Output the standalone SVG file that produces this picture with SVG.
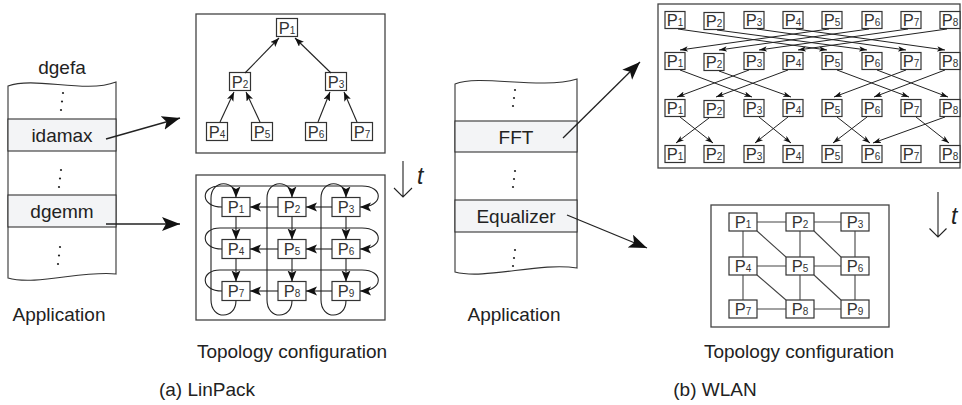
<svg xmlns="http://www.w3.org/2000/svg" width="962" height="405" viewBox="0 0 962 405">
<style>
.bg{fill:#fff}
.col{fill:#fff;stroke:#333;stroke-width:1.1}
.fn{fill:#f3f4f6;stroke:#333;stroke-width:1.1}
.frame{fill:#fff;stroke:#444;stroke-width:1.3}
.nd{fill:#fff;stroke:#333;stroke-width:1.2}
.lbl{font-family:"Liberation Sans",Arial,sans-serif;font-size:19px;fill:#222;text-anchor:middle}
.pn{font-family:"Liberation Sans",Arial,sans-serif;font-size:16.5px;fill:#333;text-anchor:middle}
.sub{font-size:10px}
.tt{font-family:"Liberation Sans",Arial,sans-serif;font-size:23px;font-style:italic;fill:#222}
.ln{stroke:#222;stroke-width:1.1;fill:none}
.gl{stroke:#444;stroke-width:1.1;fill:none}
.dot{fill:#222}
.big{stroke:#222;stroke-width:1.3;fill:none;marker-end:url(#mBig)}
.med{stroke:#222;stroke-width:1.1;fill:none;marker-end:url(#mMed)}
.tre{stroke:#222;stroke-width:1.1;fill:none;marker-end:url(#mTree)}
.sm{stroke:#222;stroke-width:1;fill:none;marker-end:url(#mSm)}
</style>
<defs>
<marker id="mBig" markerUnits="userSpaceOnUse" markerWidth="20" markerHeight="16" refX="18" refY="7" orient="auto"><path d="M0,0 L18,7 L0,14 L4,7 z" fill="#111"/></marker>
<marker id="mMed" markerUnits="userSpaceOnUse" markerWidth="13" markerHeight="10" refX="11" refY="4.5" orient="auto"><path d="M0,0 L11,4.5 L0,9 L2.5,4.5 z" fill="#111"/></marker>
<marker id="mTree" markerUnits="userSpaceOnUse" markerWidth="11" markerHeight="8" refX="9" refY="3.5" orient="auto"><path d="M0,0 L9,3.5 L0,7 L2,3.5 z" fill="#111"/></marker>
<marker id="mSm" markerUnits="userSpaceOnUse" markerWidth="10" markerHeight="7" refX="8" refY="2.75" orient="auto"><path d="M0,0 L8,2.75 L0,5.5 L2,2.75 z" fill="#111"/></marker>
</defs>
<rect class="bg" x="0" y="0" width="962" height="405"/>

<!-- (a) Application column -->
<g id="appA">
<text class="lbl" x="62" y="74">dgefa</text>
<path class="col" d="M8,86 C35,76 85,94 116,82 L116,274 C85,270 35,286 8,278 Z"/>
<g id="idamax"><rect class="fn" x="8" y="119" width="108" height="32"/><text class="lbl" x="62" y="142">idamax</text></g>
<g id="dgemm"><rect class="fn" x="8" y="195" width="108" height="32"/><text class="lbl" x="62" y="218">dgemm</text></g>
<circle class="dot" cx="63" cy="93" r="1.1"/><circle class="dot" cx="62" cy="101.5" r="1.1"/><circle class="dot" cx="61" cy="110" r="1.1"/>
<circle class="dot" cx="61" cy="170" r="1.1"/><circle class="dot" cx="60" cy="178.5" r="1.1"/><circle class="dot" cx="59" cy="187" r="1.1"/>
<circle class="dot" cx="60" cy="247" r="1.1"/><circle class="dot" cx="59" cy="255.5" r="1.1"/><circle class="dot" cx="58" cy="264" r="1.1"/>
<text class="lbl" x="59" y="321">Application</text>
</g>

<!-- (a) Tree topology -->
<g id="treeA">
<rect class="frame" x="196" y="14" width="189" height="139"/>
<g id="tP1"><rect class="nd" x="276.5" y="18.5" width="21" height="18"/><text class="pn" x="287" y="33.5">P<tspan class="sub">1</tspan></text></g>
<g id="tP2"><rect class="nd" x="229.5" y="72.5" width="21" height="18"/><text class="pn" x="240" y="87.5">P<tspan class="sub">2</tspan></text></g>
<g id="tP3"><rect class="nd" x="325.5" y="72.5" width="21" height="18"/><text class="pn" x="336" y="87.5">P<tspan class="sub">3</tspan></text></g>
<g id="tP4"><rect class="nd" x="206.5" y="122.5" width="21" height="18"/><text class="pn" x="217" y="137.5">P<tspan class="sub">4</tspan></text></g>
<g id="tP5"><rect class="nd" x="251.5" y="122.5" width="21" height="18"/><text class="pn" x="262" y="137.5">P<tspan class="sub">5</tspan></text></g>
<g id="tP6"><rect class="nd" x="305.5" y="122.5" width="21" height="18"/><text class="pn" x="316" y="137.5">P<tspan class="sub">6</tspan></text></g>
<g id="tP7"><rect class="nd" x="351.5" y="122.5" width="21" height="18"/><text class="pn" x="362" y="137.5">P<tspan class="sub">7</tspan></text></g>
</g>

<!-- (a) Mesh topology -->
<g id="meshA">
<rect class="frame" x="196" y="175" width="189" height="145"/>
<g id="mP1"><rect class="nd" x="222" y="197.5" width="28" height="19"/><text class="pn" x="236" y="213">P<tspan class="sub">1</tspan></text></g>
<g id="mP2"><rect class="nd" x="278" y="197.5" width="28" height="19"/><text class="pn" x="292" y="213">P<tspan class="sub">2</tspan></text></g>
<g id="mP3"><rect class="nd" x="332" y="197.5" width="28" height="19"/><text class="pn" x="346" y="213">P<tspan class="sub">3</tspan></text></g>
<g id="mP4"><rect class="nd" x="222" y="239.5" width="28" height="19"/><text class="pn" x="236" y="255">P<tspan class="sub">4</tspan></text></g>
<g id="mP5"><rect class="nd" x="278" y="239.5" width="28" height="19"/><text class="pn" x="292" y="255">P<tspan class="sub">5</tspan></text></g>
<g id="mP6"><rect class="nd" x="332" y="239.5" width="28" height="19"/><text class="pn" x="346" y="255">P<tspan class="sub">6</tspan></text></g>
<g id="mP7"><rect class="nd" x="222" y="281.5" width="28" height="19"/><text class="pn" x="236" y="297">P<tspan class="sub">7</tspan></text></g>
<g id="mP8"><rect class="nd" x="278" y="281.5" width="28" height="19"/><text class="pn" x="292" y="297">P<tspan class="sub">8</tspan></text></g>
<g id="mP9"><rect class="nd" x="332" y="281.5" width="28" height="19"/><text class="pn" x="346" y="297">P<tspan class="sub">9</tspan></text></g>
</g>

<text class="lbl" x="292" y="358">Topology configuration</text>
<text class="lbl" x="207" y="396">(a) LinPack</text>

<!-- (b) Application column -->
<g id="appB">
<path class="col" d="M455,84 C480,74 540,90 577,79 L577,268 C540,262 485,280 455,272 Z"/>
<g id="fft"><rect class="fn" x="455" y="121" width="122" height="31"/><text class="lbl" x="516" y="143.5">FFT</text></g>
<g id="equalizer"><rect class="fn" x="455" y="200" width="122" height="32"/><text class="lbl" x="516" y="223">Equalizer</text></g>
<circle class="dot" cx="515" cy="90" r="1.1"/><circle class="dot" cx="514" cy="98" r="1.1"/><circle class="dot" cx="513" cy="106" r="1.1"/>
<circle class="dot" cx="515" cy="171" r="1.1"/><circle class="dot" cx="514" cy="179" r="1.1"/><circle class="dot" cx="513" cy="187" r="1.1"/>
<circle class="dot" cx="515" cy="250" r="1.1"/><circle class="dot" cx="514" cy="258" r="1.1"/><circle class="dot" cx="513" cy="266" r="1.1"/>
<text class="lbl" x="514" y="321">Application</text>
</g>

<!-- (b) Butterfly topology -->
<g id="fftTopo">
<rect class="frame" x="658" y="4" width="302" height="164"/>
<g id="b1">
<rect class="nd" x="665" y="11.5" width="20" height="17"/><text class="pn" x="675" y="26">P<tspan class="sub">1</tspan></text>
<rect class="nd" x="704" y="12.5" width="20" height="17"/><text class="pn" x="714" y="27">P<tspan class="sub">2</tspan></text>
<rect class="nd" x="744" y="11.5" width="20" height="17"/><text class="pn" x="754" y="26">P<tspan class="sub">3</tspan></text>
<rect class="nd" x="783" y="11.5" width="20" height="17"/><text class="pn" x="793" y="26">P<tspan class="sub">4</tspan></text>
<rect class="nd" x="822" y="11.5" width="20" height="17"/><text class="pn" x="832" y="26">P<tspan class="sub">5</tspan></text>
<rect class="nd" x="862" y="11.5" width="20" height="17"/><text class="pn" x="872" y="26">P<tspan class="sub">6</tspan></text>
<rect class="nd" x="901" y="11.5" width="20" height="17"/><text class="pn" x="911" y="26">P<tspan class="sub">7</tspan></text>
<rect class="nd" x="940" y="11.5" width="20" height="17"/><text class="pn" x="950" y="26">P<tspan class="sub">8</tspan></text>
</g>
<g id="b2">
<rect class="nd" x="665" y="52.5" width="20" height="17"/><text class="pn" x="675" y="67">P<tspan class="sub">1</tspan></text>
<rect class="nd" x="704" y="53.5" width="20" height="17"/><text class="pn" x="714" y="68">P<tspan class="sub">2</tspan></text>
<rect class="nd" x="744" y="52.5" width="20" height="17"/><text class="pn" x="754" y="67">P<tspan class="sub">3</tspan></text>
<rect class="nd" x="783" y="52.5" width="20" height="17"/><text class="pn" x="793" y="67">P<tspan class="sub">4</tspan></text>
<rect class="nd" x="822" y="52.5" width="20" height="17"/><text class="pn" x="832" y="67">P<tspan class="sub">5</tspan></text>
<rect class="nd" x="862" y="52.5" width="20" height="17"/><text class="pn" x="872" y="67">P<tspan class="sub">6</tspan></text>
<rect class="nd" x="901" y="52.5" width="20" height="17"/><text class="pn" x="911" y="67">P<tspan class="sub">7</tspan></text>
<rect class="nd" x="940" y="52.5" width="20" height="17"/><text class="pn" x="950" y="67">P<tspan class="sub">8</tspan></text>
</g>
<g id="b3">
<rect class="nd" x="665" y="99.5" width="20" height="17"/><text class="pn" x="675" y="114">P<tspan class="sub">1</tspan></text>
<rect class="nd" x="704" y="100.5" width="20" height="17"/><text class="pn" x="714" y="115">P<tspan class="sub">2</tspan></text>
<rect class="nd" x="744" y="99.5" width="20" height="17"/><text class="pn" x="754" y="114">P<tspan class="sub">3</tspan></text>
<rect class="nd" x="783" y="99.5" width="20" height="17"/><text class="pn" x="793" y="114">P<tspan class="sub">4</tspan></text>
<rect class="nd" x="822" y="99.5" width="20" height="17"/><text class="pn" x="832" y="114">P<tspan class="sub">5</tspan></text>
<rect class="nd" x="862" y="99.5" width="20" height="17"/><text class="pn" x="872" y="114">P<tspan class="sub">6</tspan></text>
<rect class="nd" x="901" y="99.5" width="20" height="17"/><text class="pn" x="911" y="114">P<tspan class="sub">7</tspan></text>
<rect class="nd" x="940" y="99.5" width="20" height="17"/><text class="pn" x="950" y="114">P<tspan class="sub">8</tspan></text>
</g>
<g id="b4">
<rect class="nd" x="665" y="145.5" width="20" height="17"/><text class="pn" x="675" y="160">P<tspan class="sub">1</tspan></text>
<rect class="nd" x="704" y="145.5" width="20" height="17"/><text class="pn" x="714" y="160">P<tspan class="sub">2</tspan></text>
<rect class="nd" x="744" y="145.5" width="20" height="17"/><text class="pn" x="754" y="160">P<tspan class="sub">3</tspan></text>
<rect class="nd" x="783" y="145.5" width="20" height="17"/><text class="pn" x="793" y="160">P<tspan class="sub">4</tspan></text>
<rect class="nd" x="822" y="145.5" width="20" height="17"/><text class="pn" x="832" y="160">P<tspan class="sub">5</tspan></text>
<rect class="nd" x="862" y="145.5" width="20" height="17"/><text class="pn" x="872" y="160">P<tspan class="sub">6</tspan></text>
<rect class="nd" x="901" y="145.5" width="20" height="17"/><text class="pn" x="911" y="160">P<tspan class="sub">7</tspan></text>
<rect class="nd" x="940" y="145.5" width="20" height="17"/><text class="pn" x="950" y="160">P<tspan class="sub">8</tspan></text>
</g>
</g>

<!-- (b) Mesh topology -->
<g id="meshB">
<rect class="frame" x="711" y="205" width="178" height="122"/>
<g id="wP1"><rect class="nd" x="729" y="213" width="28" height="18"/><text class="pn" x="743" y="228">P<tspan class="sub">1</tspan></text></g>
<g id="wP2"><rect class="nd" x="786" y="213" width="28" height="18"/><text class="pn" x="800" y="228">P<tspan class="sub">2</tspan></text></g>
<g id="wP3"><rect class="nd" x="841" y="213" width="28" height="18"/><text class="pn" x="855" y="228">P<tspan class="sub">3</tspan></text></g>
<g id="wP4"><rect class="nd" x="729" y="257" width="28" height="18"/><text class="pn" x="743" y="272">P<tspan class="sub">4</tspan></text></g>
<g id="wP5"><rect class="nd" x="786" y="257" width="28" height="18"/><text class="pn" x="800" y="272">P<tspan class="sub">5</tspan></text></g>
<g id="wP6"><rect class="nd" x="841" y="257" width="28" height="18"/><text class="pn" x="855" y="272">P<tspan class="sub">6</tspan></text></g>
<g id="wP7"><rect class="nd" x="729" y="300" width="28" height="18"/><text class="pn" x="743" y="315">P<tspan class="sub">7</tspan></text></g>
<g id="wP8"><rect class="nd" x="786" y="300" width="28" height="18"/><text class="pn" x="800" y="315">P<tspan class="sub">8</tspan></text></g>
<g id="wP9"><rect class="nd" x="841" y="300" width="28" height="18"/><text class="pn" x="855" y="315">P<tspan class="sub">9</tspan></text></g>
</g>

<text class="lbl" x="799" y="358">Topology configuration</text>
<text class="lbl" x="715" y="396">(b) WLAN</text>

<!-- time arrows -->
<g id="timeA">
<path class="ln" d="M403,161 V197 M394,188 L403,197 L412,188"/>
<text class="tt" x="417" y="184">t</text>
</g>
<g id="timeB">
<path class="ln" d="M938,192 V237 M929.5,228.5 L938,237 L946.5,228.5"/>
<text class="tt" x="951" y="224">t</text>
</g>

<!-- connectors -->
<g id="connectors">
<path class="big" d="M106,139 L180,118"/>
<path class="big" d="M106,224 L180,224"/>
<path class="big" d="M563,138 L640,62"/>
<path class="big" d="M567,215 L647,248"/>

<!-- tree -->
<path class="tre" d="M245,73 L279,38"/>
<path class="tre" d="M331,73 L295,38"/>
<path class="tre" d="M220,122 L234,92"/>
<path class="tre" d="M260,122 L246,92"/>
<path class="tre" d="M318,122 L330,92"/>
<path class="tre" d="M357,122 L344,92"/>

<!-- mesh a: horizontal -->
<path class="med" d="M278,207 L250,207"/><path class="med" d="M332,207 L306,207"/>
<path class="med" d="M278,249 L250,249"/><path class="med" d="M332,249 L306,249"/>
<path class="med" d="M278,291 L250,291"/><path class="med" d="M332,291 L306,291"/>
<!-- mesh a: vertical -->
<path class="med" d="M236,216.5 L236,239.5"/><path class="med" d="M236,258.5 L236,281.5"/>
<path class="med" d="M292,216.5 L292,239.5"/><path class="med" d="M292,258.5 L292,281.5"/>
<path class="med" d="M346,216.5 L346,239.5"/><path class="med" d="M346,258.5 L346,281.5"/>
<!-- mesh a: row wrap -->
<path class="med" d="M222,207 C200,207 200,186 220,186 L362,186 C384,186 384,207 360,207"/>
<path class="med" d="M222,249 C200,249 200,228 220,228 L362,228 C384,228 384,249 360,249"/>
<path class="med" d="M222,291 C200,291 200,270 220,270 L362,270 C384,270 384,291 360,291"/>
<!-- mesh a: column wrap -->
<path class="med" d="M236,300.5 C236,320 211,320 211,300 L211,198 C211,179 236,179 236,197.5"/>
<path class="med" d="M292,300.5 C292,320 267,320 267,300 L267,198 C267,179 292,179 292,197.5"/>
<path class="med" d="M346,300.5 C346,320 321,320 321,300 L321,198 C321,179 346,179 346,197.5"/>

<!-- butterfly stage 1 -->
<path class="sm" d="M678,29 L827,50"/><path class="sm" d="M717,30 L867,50"/>
<path class="sm" d="M757,29 L906,50"/><path class="sm" d="M796,29 L945,50"/>
<path class="sm" d="M829,29 L680,50"/><path class="sm" d="M869,29 L719,50"/>
<path class="sm" d="M908,29 L759,50"/><path class="sm" d="M947,29 L798,50"/>
<!-- stage 2 -->
<path class="sm" d="M680,70 L752,97"/><path class="sm" d="M719,71 L791,97"/>
<path class="sm" d="M837,70 L909,97"/><path class="sm" d="M877,70 L948,97"/>
<path class="sm" d="M749,70 L677,97"/><path class="sm" d="M788,70 L716,97"/>
<path class="sm" d="M906,70 L834,97"/><path class="sm" d="M945,70 L874,97"/>
<!-- stage 3 -->
<path class="sm" d="M680,117 L713,143"/><path class="sm" d="M759,117 L791,143"/>
<path class="sm" d="M837,117 L870,143"/><path class="sm" d="M916,117 L949,143"/>
<path class="sm" d="M709,118 L676,143"/><path class="sm" d="M788,117 L755,143"/>
<path class="sm" d="M867,117 L833,143"/><path class="sm" d="M945,117 L873,143"/>

<!-- WLAN mesh -->
<path class="gl" d="M757,222 H786 M814,222 H841 M757,266 H786 M814,266 H841 M757,309 H786 M814,309 H841"/>
<path class="gl" d="M743,231 V257 M743,275 V300 M800,231 V257 M800,275 V300 M855,231 V257 M855,275 V300"/>
<path class="gl" d="M757,231 L786,257 M814,231 L841,257 M757,275 L786,300 M814,275 L841,300"/>
</g>
</svg>
